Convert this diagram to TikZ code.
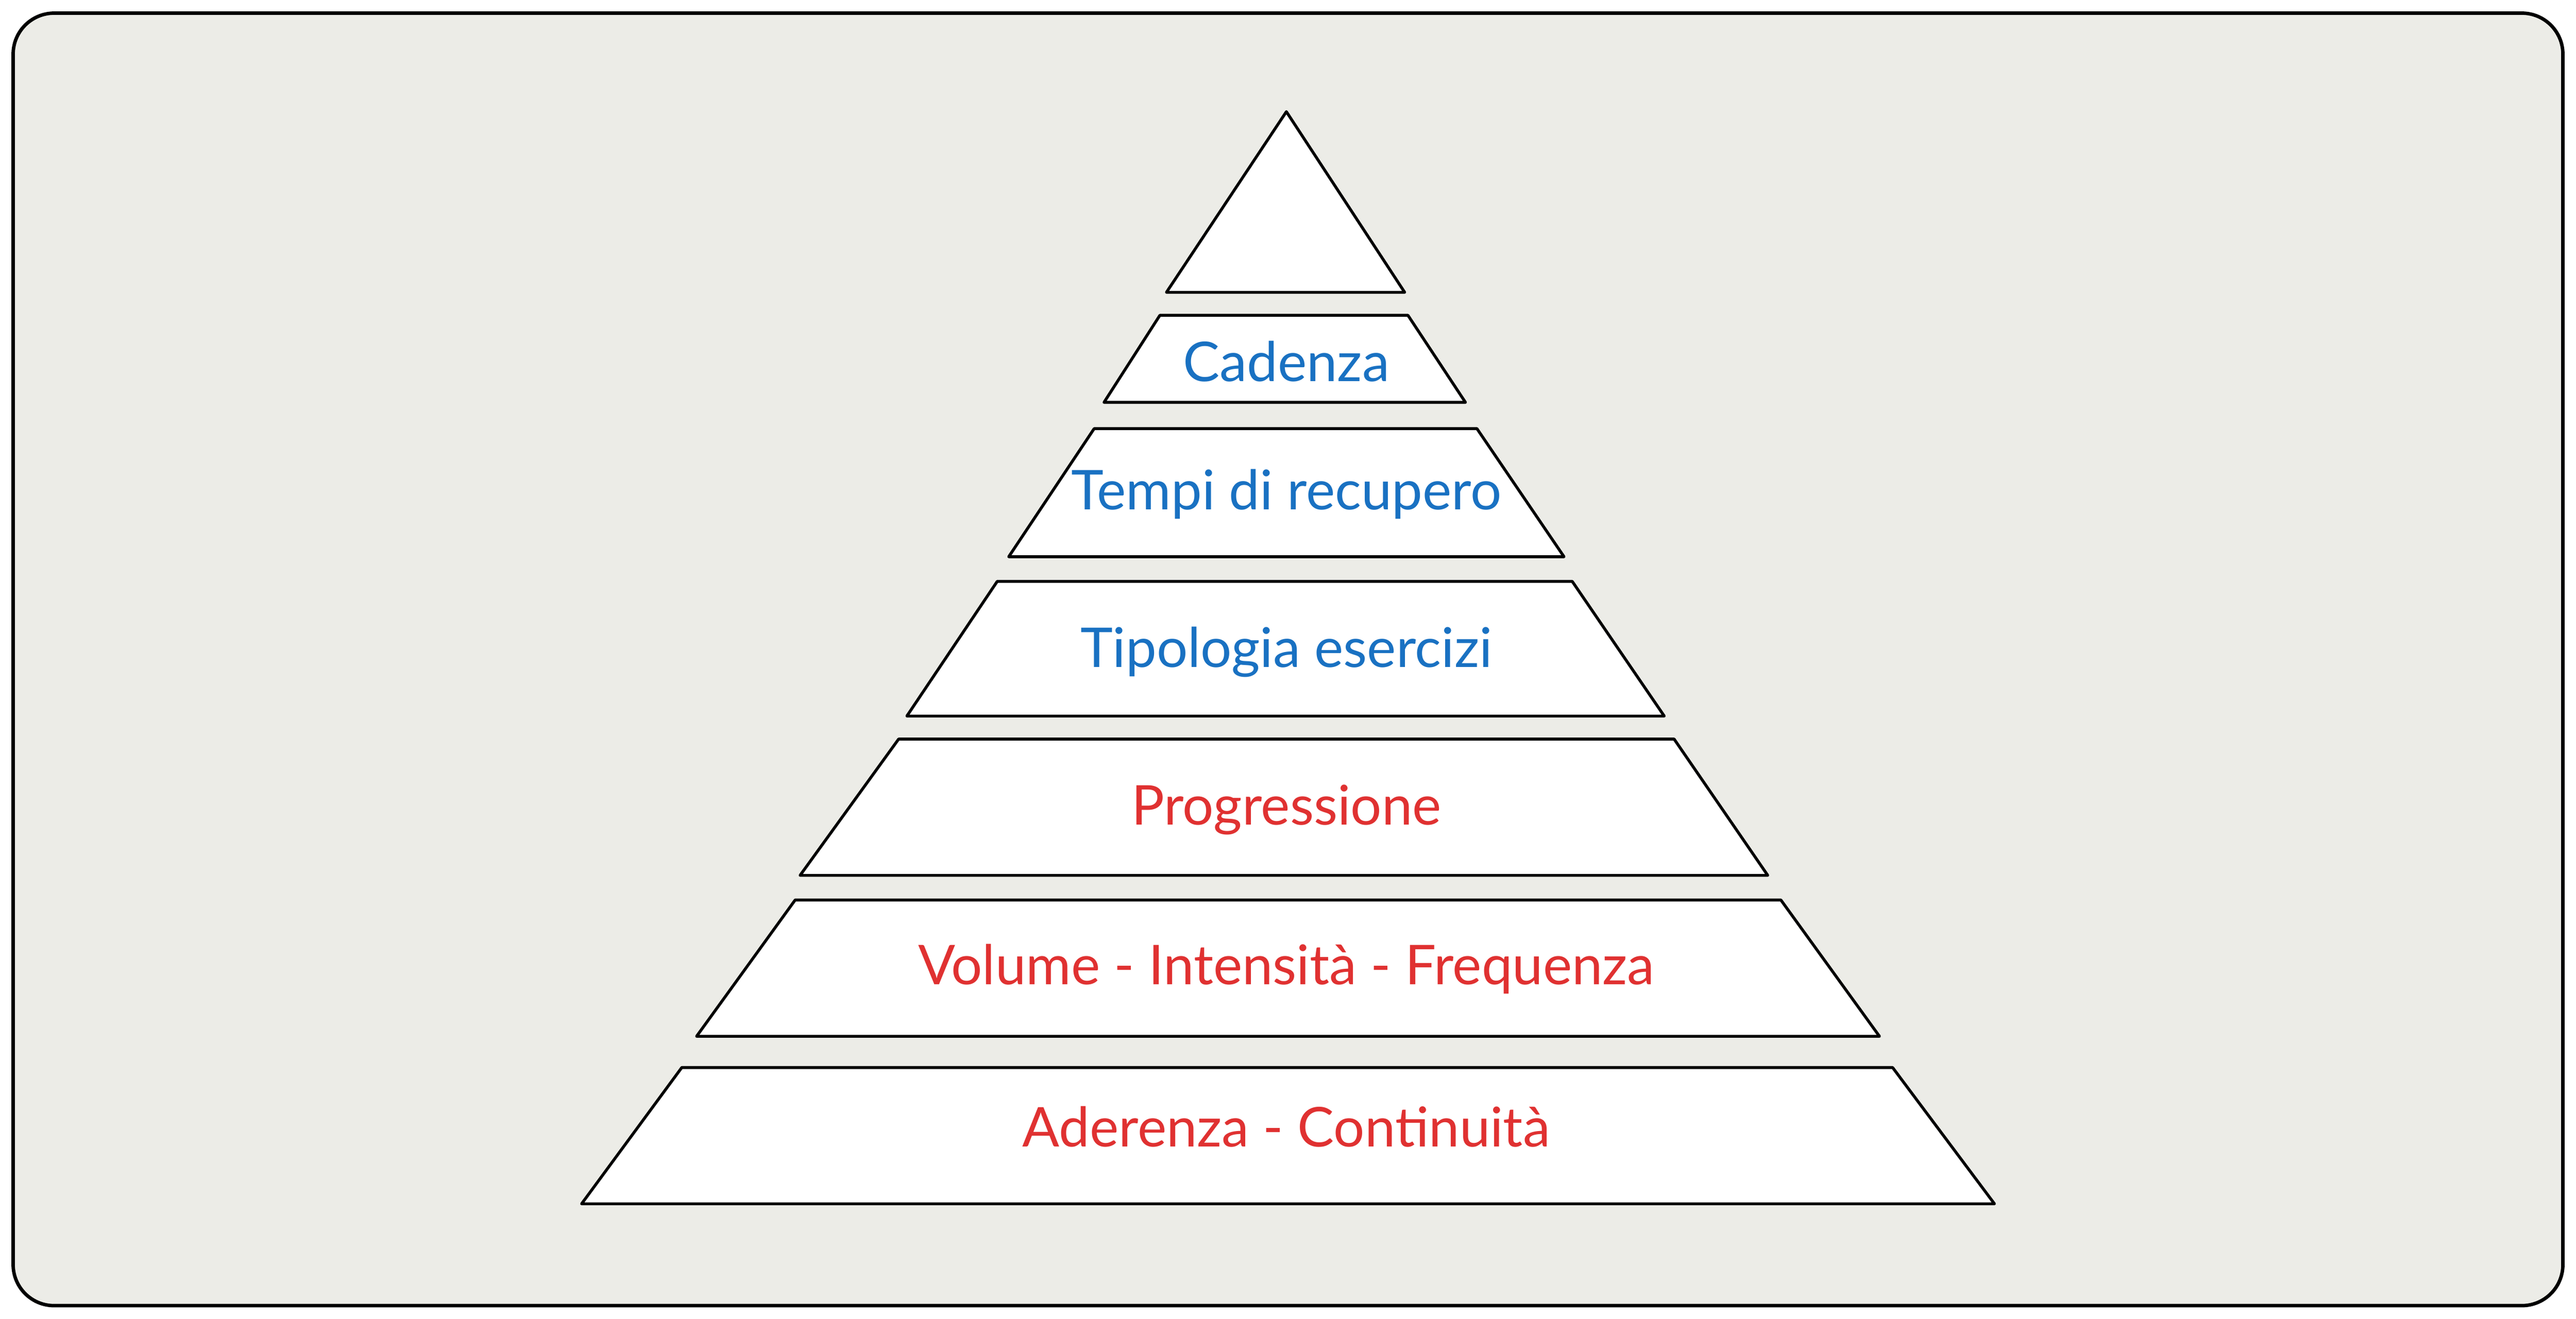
\documentclass[tikz,border=0pt]{standalone}
\usepackage{fontspec}
\setmainfont{Lato}
\usepackage{xcolor}
\definecolor{bgpanel}{HTML}{ECECE7}
\definecolor{levelblue}{HTML}{1971C2}
\definecolor{levelred}{HTML}{E03131}
\tikzstyle{layer} = [draw=black, fill=white, line width=0.5pt, line join=round]
\tikzstyle{label} = [font=\fontsize{9.5}{11}\selectfont]
% trapezoid: top y, top left, top right, bottom y, bottom left, bottom right
\newcommand{\pyrlayer}[6]{\draw[layer] (#2/100,-#1/100) -- (#3/100,-#1/100) -- (#6/100,-#4/100) -- (#5/100,-#4/100) -- cycle;}
\begin{document}
\begin{tikzpicture}
    \useasboundingbox (0,0) rectangle (15.68,-8.03);
    % Panel
    \draw[fill=bgpanel, line width=0.6pt, rounded corners=0.25cm] (0.08,-0.08) rectangle (15.60,-7.95);
    % Apex
    \draw[layer] (7.83,-0.68) -- (8.55,-1.78) -- (7.10,-1.78) -- cycle;
    % Layers
    \pyrlayer{192}{706}{857}{245}{672}{892}
    \pyrlayer{261}{666}{899}{339}{614}{952}
    \pyrlayer{354}{607}{957}{436}{552}{1013}
    \pyrlayer{450}{547}{1019}{533}{487}{1076}
    \pyrlayer{548}{484}{1084}{631}{424}{1144}
    \pyrlayer{650}{415}{1152}{733}{354}{1214}
    % Labels
    \node (cadenza) [label, text=levelblue] at (7.83,-2.20) {Cadenza};
    \node (tempi) [label, text=levelblue] at (7.83,-3.01) {Tempi di recupero};
    \node (tipologia) [label, text=levelblue] at (7.83,-3.97) {Tipologia esercizi};
    \node (progressione) [label, text=levelred] at (7.83,-4.93) {Progressione};
    \node (volume) [label, text=levelred] at (7.83,-5.90) {Volume - Intensità - Frequenza};
    \node (aderenza) [label, text=levelred] at (7.83,-6.86) {Aderenza - Continuità};
\end{tikzpicture}
\end{document}
